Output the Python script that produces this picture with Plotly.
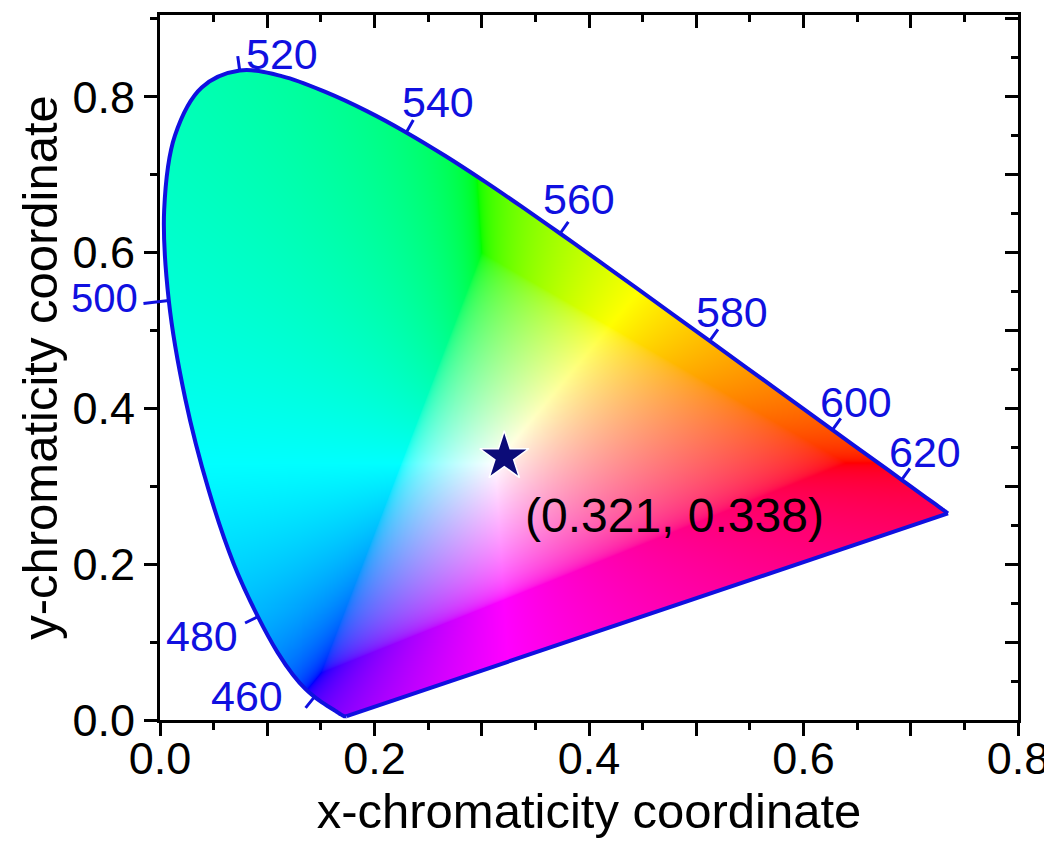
import base64
import struct
import zlib

import numpy as np
import plotly.graph_objects as go

# ---------------- data ----------------
# CIE 1931 2-degree spectral locus (chromaticity coordinates), 380-700 nm every 5 nm
wavelengths = list(range(380, 701, 5))
locus_x = [0.1741, 0.1740, 0.1738, 0.1736, 0.1733, 0.1730, 0.1726, 0.1721, 0.1714, 0.1703,
           0.1689, 0.1669, 0.1644, 0.1611, 0.1566, 0.1510, 0.1440, 0.1355, 0.1241, 0.1096,
           0.0913, 0.0687, 0.0454, 0.0235, 0.0082, 0.0039, 0.0139, 0.0389, 0.0743, 0.1142,
           0.1547, 0.1929, 0.2296, 0.2658, 0.3016, 0.3373, 0.3731, 0.4087, 0.4441, 0.4788,
           0.5125, 0.5448, 0.5752, 0.6029, 0.6270, 0.6482, 0.6658, 0.6801, 0.6915, 0.7006,
           0.7079, 0.7140, 0.7190, 0.7230, 0.7260, 0.7283, 0.7300, 0.7311, 0.7320, 0.7327,
           0.7334, 0.7340, 0.7344, 0.7346, 0.7347]
locus_y = [0.0050, 0.0050, 0.0049, 0.0049, 0.0048, 0.0048, 0.0048, 0.0048, 0.0051, 0.0058,
           0.0069, 0.0086, 0.0109, 0.0138, 0.0177, 0.0227, 0.0297, 0.0399, 0.0578, 0.0868,
           0.1327, 0.2007, 0.2950, 0.4127, 0.5384, 0.6548, 0.7502, 0.8120, 0.8338, 0.8262,
           0.8059, 0.7816, 0.7543, 0.7243, 0.6923, 0.6589, 0.6245, 0.5896, 0.5547, 0.5202,
           0.4866, 0.4544, 0.4242, 0.3965, 0.3725, 0.3514, 0.3340, 0.3197, 0.3083, 0.2993,
           0.2920, 0.2859, 0.2809, 0.2770, 0.2740, 0.2717, 0.2700, 0.2689, 0.2680, 0.2673,
           0.2666, 0.2660, 0.2656, 0.2654, 0.2653]
label_wavelengths = [460, 480, 500, 520, 540, 560, 580, 600, 620]
point_x = [0.321]
point_y = [0.338]
x_tick_vals = [0.0, 0.1, 0.2, 0.3, 0.4, 0.5, 0.6, 0.7, 0.8]
x_tick_text = ["0.0", "", "0.2", "", "0.4", "", "0.6", "", "0.8"]
y_tick_vals = [0.0, 0.2, 0.4, 0.6, 0.8]
y_tick_text = ["0.0", "0.2", "0.4", "0.6", "0.8"]

# ---------------- style / layout constants ----------------
# the html page has an 8px body margin, so the figure is made 8px smaller
W, H = 1044, 833
ML, MR, MT, MB = 152, 34, 7, 121
XR = [0.0, 0.8]
YR = [0.0, 0.905]
FONT = "Liberation Sans"
BLUE = "#1010e0"
PX_X = (W - ML - MR) / (XR[1] - XR[0])
PX_Y = (H - MT - MB) / (YR[1] - YR[0])
TICK_LEN_PX = 16
tick_len = {500: 27}
# label pixel offsets (x right, y up) from the locus point
label_shift = {460: (-67, 1), 480: (-56, -19), 500: (-64, 3), 520: (42, 16),
               540: (32, 30), 560: (19, 35), 580: (22, 29), 600: (24, 28), 620: (23, 28)}
label_size = {500: 40}

lx = np.array(locus_x)
ly = np.array(locus_y)


def smooth_outline(xs, ys, k=12):
    """Catmull-Rom densified outline (used only for the colour mask)."""
    P = np.column_stack([xs * PX_X, ys * PX_Y])
    out = []
    n = len(P)
    for i in range(n - 1):
        p0 = P[max(i - 1, 0)]
        p1 = P[i]
        p2 = P[i + 1]
        p3 = P[min(i + 2, n - 1)]
        for t in np.linspace(0, 1, k, endpoint=False):
            t2, t3 = t * t, t * t * t
            out.append(0.5 * ((2 * p1) + (-p0 + p2) * t + (2 * p0 - 5 * p1 + 4 * p2 - p3) * t2
                              + (-p0 + 3 * p1 - 3 * p2 + p3) * t3))
    out.append(P[-1])
    out = np.array(out)
    return out[:, 0] / PX_X, out[:, 1] / PX_Y


# ---------------- colour fill of the gamut ----------------
img_x0, img_x1 = 0.0, 0.74
img_y0, img_y1 = 0.0, 0.84
nx = int(round((img_x1 - img_x0) * PX_X))
ny = int(round((img_y1 - img_y0) * PX_Y))
gx = img_x0 + (np.arange(nx) + 0.5) * (img_x1 - img_x0) / nx
gy = img_y1 - (np.arange(ny) + 0.5) * (img_y1 - img_y0) / ny
GX, GY = np.meshgrid(gx, gy)

Yc = np.maximum(GY, 1e-6)
Xv = GX / Yc
Zv = (1.0 - GX - GY) / Yc
r = 3.2406 * Xv - 1.5372 - 0.4986 * Zv
g = -0.9689 * Xv + 1.8758 + 0.0415 * Zv
b = 0.0557 * Xv - 0.2040 + 1.0570 * Zv
rgb = np.stack([r, g, b], axis=-1)
mn = rgb.min(axis=-1, keepdims=True)
rgb = rgb - np.minimum(mn, 0.0)
rgb = rgb / np.maximum(rgb.max(axis=-1, keepdims=True), 1e-9)
rgb = np.where(rgb <= 0.0031308, 12.92 * rgb, 1.055 * np.power(np.clip(rgb, 0, 1), 1 / 2.4) - 0.055)
rgb = np.clip(rgb, 0, 1)

# inside test for the closed (smoothed) locus polygon
sx_, sy_ = smooth_outline(lx, ly)
px = np.append(sx_, sx_[0])
py = np.append(sy_, sy_[0])
inside = np.zeros(GX.shape, dtype=bool)
for i in range(len(px) - 1):
    x1, y1, x2, y2 = px[i], py[i], px[i + 1], py[i + 1]
    if y1 == y2:
        continue
    cond = ((y1 > GY) != (y2 > GY)) & (GX < (x2 - x1) * (GY - y1) / (y2 - y1) + x1)
    inside ^= cond

rgba = np.zeros((ny, nx, 4), dtype=np.uint8)
rgba[..., :3] = (rgb * 255 + 0.5).astype(np.uint8)
rgba[..., 3] = np.where(inside, 255, 0).astype(np.uint8)


def png_data_uri(arr):
    h, w, _ = arr.shape
    raw = b"".join(b"\x00" + arr[i].tobytes() for i in range(h))

    def chunk(tag, data):
        c = struct.pack(">I", len(data)) + tag + data
        return c + struct.pack(">I", zlib.crc32(tag + data) & 0xFFFFFFFF)

    png = (b"\x89PNG\r\n\x1a\n"
           + chunk(b"IHDR", struct.pack(">IIBBBBB", w, h, 8, 6, 0, 0, 0))
           + chunk(b"IDAT", zlib.compress(raw, 9))
           + chunk(b"IEND", b""))
    return "data:image/png;base64," + base64.b64encode(png).decode()


fig = go.Figure()

fig.add_layout_image(dict(source=png_data_uri(rgba), xref="x", yref="y",
                          x=img_x0, y=img_y1, sizex=img_x1 - img_x0, sizey=img_y1 - img_y0,
                          sizing="stretch", xanchor="left", yanchor="top", layer="below"))

# spectral locus (smooth) and the straight purple line
fig.add_trace(go.Scatter(x=locus_x, y=locus_y, mode="lines",
                         line=dict(color=BLUE, width=4, shape="spline", smoothing=1),
                         hoverinfo="skip", showlegend=False))
fig.add_trace(go.Scatter(x=[locus_x[-1], locus_x[0]], y=[locus_y[-1], locus_y[0]], mode="lines",
                         line=dict(color=BLUE, width=4), hoverinfo="skip", showlegend=False))

# wavelength tick marks (normal to the locus, drawn as arrow-less annotation lines) and labels
annotations = []
for wl in label_wavelengths:
    i = wavelengths.index(wl)
    dxp = (lx[i + 1] - lx[i - 1]) * PX_X
    dyp = (ly[i + 1] - ly[i - 1]) * PX_Y
    n = np.hypot(dxp, dyp)
    nxp, nyp = -dyp / n, dxp / n  # outward normal (pixel space, y up)
    L = tick_len.get(wl, TICK_LEN_PX)
    annotations.append(dict(x=lx[i], y=ly[i], xref="x", yref="y", text="", showarrow=True,
                            ax=nxp * L, ay=-nyp * L, arrowhead=0, arrowwidth=3,
                            arrowcolor=BLUE, standoff=0, startstandoff=0))
    sx, sy = label_shift[wl]
    annotations.append(dict(x=lx[i], y=ly[i], xref="x", yref="y", text=str(wl), showarrow=False,
                            xshift=sx, yshift=sy, xanchor="center", yanchor="middle",
                            font=dict(family=FONT, size=label_size.get(wl, 43), color=BLUE)))

# marked point
fig.add_trace(go.Scatter(x=point_x, y=point_y, mode="markers",
                         marker=dict(symbol="star", size=37, color="#0c0c78",
                                     line=dict(color="white", width=1.5)),
                         showlegend=False))
annotations.append(dict(x=0.48, y=0.263, xref="x", yref="y",
                        text=f"({point_x[0]:.3f}, {point_y[0]:.3f})", showarrow=False,
                        font=dict(family=FONT, size=48, color="black")))

# helper trace for the mirrored (top/right) axes
fig.add_trace(go.Scatter(x=[None], y=[None], xaxis="x2", yaxis="y2", showlegend=False))

axis_common = dict(showgrid=False, zeroline=False, linecolor="black",
                   tickcolor="black", tickwidth=3, automargin=False)
fig.update_layout(
    width=W, height=H,
    margin=dict(l=ML, r=MR, t=MT, b=MB, autoexpand=False),
    paper_bgcolor="white", plot_bgcolor="rgba(0,0,0,0)",
    font=dict(family=FONT, color="black"),
    annotations=annotations,
    xaxis=dict(range=XR, tickmode="array", tickvals=x_tick_vals, ticktext=x_tick_text,
               ticks="outside", ticklen=13, showline=True, mirror=True, linewidth=3,
               tickfont=dict(size=45, family=FONT), ticklabelstandoff=-16,
               minor=dict(tick0=0, dtick=0.05, ticks="outside", ticklen=7, tickwidth=3, tickcolor="black"),
               title=dict(text="x-chromaticity coordinate", font=dict(size=49, family=FONT), standoff=2),
               **axis_common),
    yaxis=dict(range=YR, tickmode="array", tickvals=y_tick_vals, ticktext=y_tick_text,
               ticks="outside", ticklen=13, showline=True, mirror=True, linewidth=3,
               tickfont=dict(size=45, family=FONT),
               minor=dict(tick0=0, dtick=0.1, ticks="outside", ticklen=7, tickwidth=3, tickcolor="black"),
               title=dict(text="y-chromaticity coordinate", font=dict(size=49, family=FONT), standoff=0),
               **axis_common),
    xaxis2=dict(range=XR, overlaying="x", side="top", anchor="y", tickmode="linear", tick0=0, dtick=0.1,
                ticks="inside", ticklen=13, showticklabels=False, showline=False,
                minor=dict(tick0=0, dtick=0.05, ticks="inside", ticklen=7, tickwidth=3, tickcolor="black"),
                **axis_common),
    yaxis2=dict(range=YR, overlaying="y", side="right", anchor="x", tickmode="linear", tick0=0, dtick=0.1,
                ticks="inside", ticklen=13, showticklabels=False, showline=False,
                minor=dict(tick0=0, dtick=0.05, ticks="inside", ticklen=7, tickwidth=3, tickcolor="black"),
                **axis_common),
)

fig.write_html("out.html")
